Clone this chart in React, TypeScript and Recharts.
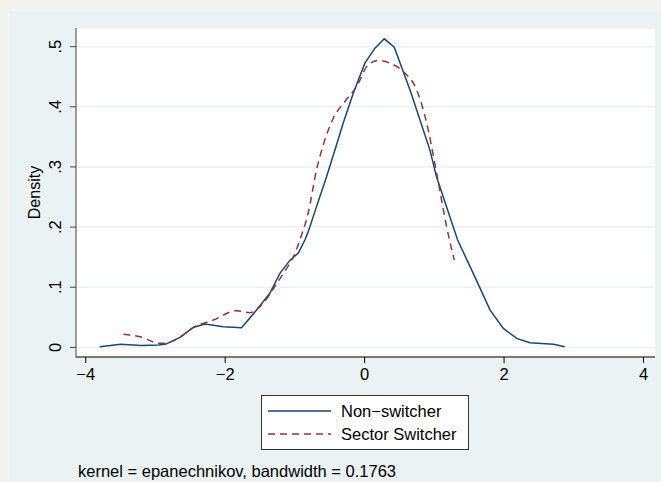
import React from 'react';
import { LineChart, Line, XAxis, YAxis, CartesianGrid } from 'recharts';

// kernel density estimates
const nonSwitcherX = [-3.8, -3.5, -3.2, -2.95, -2.85, -2.65, -2.46, -2.29, -2.03, -1.765, -1.55, -1.36, -1.215, -1.07, -0.95, -0.857, -0.81, -0.69, -0.545, -0.426, -0.307, -0.163, 0.004, 0.148, 0.281, 0.425, 0.66, 0.937, 1.03, 1.334, 1.558, 1.8, 1.99, 2.18, 2.37, 2.71, 2.87];
const nonSwitcherY = [0.001, 0.005, 0.003, 0.004, 0.0055, 0.0166, 0.033, 0.0388, 0.0343, 0.0326, 0.062, 0.0899, 0.123, 0.145, 0.157, 0.1785, 0.192, 0.234, 0.284, 0.328, 0.373, 0.4226, 0.4725, 0.4975, 0.513, 0.499, 0.425, 0.328, 0.284, 0.1785, 0.123, 0.062, 0.0316, 0.015, 0.0077, 0.005, 0.001];

const switcherX = [-3.46, -3.22, -2.94, -2.86, -2.65, -2.46, -2.17, -1.84, -1.646, -1.455, -1.26, -1.12, -1.0, -0.93, -0.81, -0.69, -0.57, -0.45, -0.283, -0.115, 0.052, 0.195, 0.363, 0.554, 0.746, 0.89, 1.033, 1.176, 1.286];
const switcherY = [0.022, 0.0177, 0.0067, 0.007, 0.0166, 0.033, 0.0454, 0.061, 0.0576, 0.0732, 0.1065, 0.131, 0.156, 0.1785, 0.223, 0.295, 0.345, 0.381, 0.4087, 0.4336, 0.47, 0.477, 0.4725, 0.4586, 0.428, 0.373, 0.2895, 0.2007, 0.145];

const xTicks = [-4, -2, 0, 2, 4];
const yTicks = [0, 0.1, 0.2, 0.3, 0.4, 0.5];

const seriesNames = ['Non\u2212switcher', 'Sector Switcher'];
const noteText = 'kernel = epanechnikov, bandwidth = 0.1763';

const BLUE = '#1a476f';
const RED = '#90353b';
const PANEL = '#eaf2f3';
const FONT = '"Liberation Sans", Arial, Helvetica, sans-serif';

const nonSwitcher = nonSwitcherX.map((x, i) => ({ x, y: nonSwitcherY[i] }));
const switcher = switcherX.map((x, i) => ({ x, y: switcherY[i] }));

const fmtY = (v: number) => (v === 0 ? '0' : String(Number(v.toFixed(1))).replace(/^0/, ''));
const fmtX = (v: number) => (v < 0 ? '\u2212' + Math.abs(v) : String(v));

const YTick = (props: any) => {
  const { x, y, payload } = props;
  const bx = x - 7;
  return (
    <text x={bx} y={y} transform={`rotate(-90 ${bx} ${y})`} textAnchor="middle" fontSize={16.5} fill="#000" fontFamily={FONT}>
      {fmtY(payload.value)}
    </text>
  );
};

const LegendBox = () => (
  <svg width={208} height={56} style={{ position: 'absolute', left: 261, top: 395 }}>
    <rect x={0.5} y={0.5} width={207} height={54} fill="#fff" stroke="#333" strokeWidth={1} />
    <line x1={7} x2={70} y1={16} y2={16} stroke={BLUE} strokeWidth={1.5} />
    <line x1={7} x2={70} y1={39} y2={39} stroke={RED} strokeWidth={1.5} strokeDasharray="7 5" />
    <text x={80} y={22} fontSize={16.5} fontFamily={FONT} fill="#000">{seriesNames[0]}</text>
    <text x={80} y={45} fontSize={16.5} fontFamily={FONT} fill="#000">{seriesNames[1]}</text>
  </svg>
);

export default function App() {
  return (
    <div style={{ position: 'fixed', left: 0, top: 0, width: 661, height: 482, background: '#f3f4ee', overflow: 'hidden' }}>
      <div style={{ position: 'absolute', left: 10, top: 11, width: 651, height: 471, background: PANEL }} />
      <div style={{ position: 'absolute', left: 0, top: 0 }}>
        <LineChart width={661} height={482} margin={{ top: 28, right: 6, left: 16, bottom: 95 }}>
          <CartesianGrid vertical={false} stroke={PANEL} strokeWidth={1.5} fill="#ffffff" fillOpacity={1} />
          <XAxis
            type="number"
            dataKey="x"
            domain={[-4.14, 4.165]}
            ticks={xTicks}
            allowDataOverflow
            height={30}
            tickSize={6}
            tickMargin={5}
            tickFormatter={fmtX}
            stroke="#000"
            tick={{ fill: '#000', fontSize: 16.5, fontFamily: FONT }}
          />
          <YAxis
            type="number"
            dataKey="y"
            domain={[-0.016, 0.531]}
            ticks={yTicks}
            allowDataOverflow
            width={60}
            tickSize={6}
            stroke="#444"
            tick={<YTick />}
            label={({ viewBox }: any) => {
              const cx = 40;
              const cy = viewBox.y + viewBox.height / 2;
              return (
                <text x={cx} y={cy} transform={`rotate(-90 ${cx} ${cy})`} textAnchor="middle" fontSize={16} fontFamily={FONT} fill="#000">
                  Density
                </text>
              );
            }}
          />
          <Line data={nonSwitcher} dataKey="y" type="linear" stroke={BLUE} strokeWidth={1.5} dot={false} isAnimationActive={false} />
          <Line data={switcher} dataKey="y" type="monotone" stroke={RED} strokeWidth={1.5} strokeDasharray="7 5" dot={false} isAnimationActive={false} />
        </LineChart>
      </div>
      <LegendBox />
      <svg width={661} height={482} style={{ position: 'absolute', left: 0, top: 0, pointerEvents: 'none' }}>
        <text x={78} y={477} fontSize={16.5} fontFamily={FONT} fill="#000">{noteText}</text>
      </svg>
    </div>
  );
}
